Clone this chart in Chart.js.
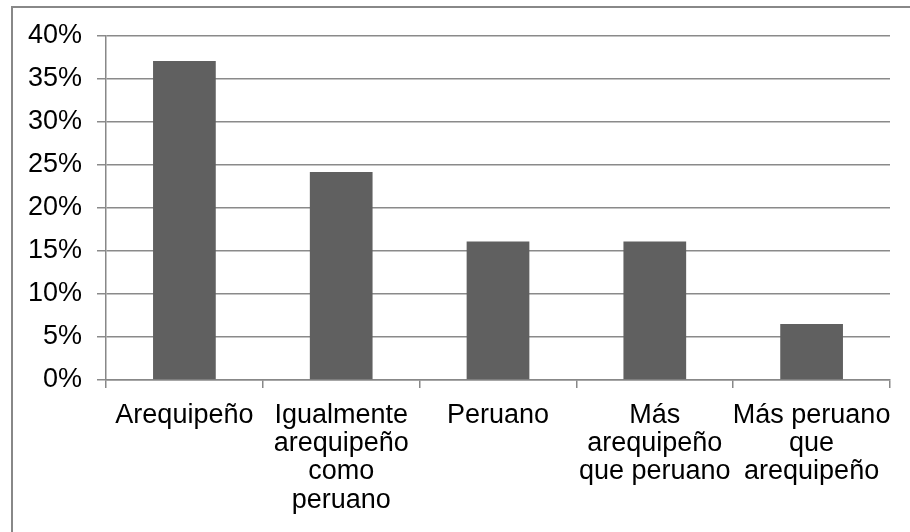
<!DOCTYPE html>
<html>
<head>
<meta charset="utf-8">
<script src="https://cdn.jsdelivr.net/npm/chart.js@4/dist/chart.umd.min.js"></script>
<style>
  html, body { margin: 0; padding: 0; background: #ffffff; }
  #wrap { width: 910px; height: 532px; position: relative; }
</style>
</head>
<body>
<div id="wrap"><canvas id="c" width="910" height="532"></canvas></div>
<script>
const categories = [
  "Arequipeño",
  ["Igualmente", "arequipeño", "como", "peruano"],
  "Peruano",
  ["Más", "arequipeño", "que peruano"],
  ["Más peruano", "que", "arequipeño"]
];
const values = [37.1, 24.2, 16.1, 16.1, 6.5];
const yTickMin = 0;
const yTickMax = 40;
const yTickStep = 5;

const frame = {
  id: 'frame',
  beforeDraw(chart) {
    const ctx = chart.ctx;
    ctx.save();
    ctx.fillStyle = '#ffffff';
    ctx.fillRect(0, 0, chart.width, chart.height);
    ctx.strokeStyle = '#888888';
    ctx.lineWidth = 2;
    ctx.strokeRect(12, 7, 1000, 1000);
    ctx.restore();
  }
};

const FONT = { family: '"Liberation Sans", Arial, sans-serif', size: 27 };

new Chart(document.getElementById('c'), {
  type: 'bar',
  data: {
    labels: categories,
    datasets: [{
      data: values,
      backgroundColor: '#606060',
      borderWidth: 0,
      barPercentage: 0.4,
      categoryPercentage: 1.0
    }]
  },
  options: {
    responsive: false,
    devicePixelRatio: 1,
    animation: false,
    layout: { padding: { top: 36, right: 20, left: 0, bottom: 0 } },
    plugins: { legend: { display: false }, tooltip: { enabled: false }, title: { display: false } },
    scales: {
      x: {
        grid: { display: true, drawOnChartArea: false, drawTicks: true, tickLength: 8, color: '#888888', lineWidth: 1.5, offset: true },
        border: { display: true, color: '#888888', width: 1.5 },
        ticks: { color: '#000000', font: { ...FONT, lineHeight: 1.05 }, padding: 13, maxRotation: 0, autoSkip: false },
        afterFit(scale) { scale.height = 152; }
      },
      y: {
        min: yTickMin,
        max: yTickMax,
        grid: { color: '#8a8a8a', lineWidth: 1.5, tickLength: 9, drawTicks: true },
        border: { display: true, color: '#888888', width: 1.5 },
        ticks: { stepSize: yTickStep, color: '#000000', font: FONT, padding: 15, callback: v => v + '%' },
        afterFit(scale) { scale.width = 106; }
      }
    }
  },
  plugins: [frame]
});
</script>
</body>
</html>
